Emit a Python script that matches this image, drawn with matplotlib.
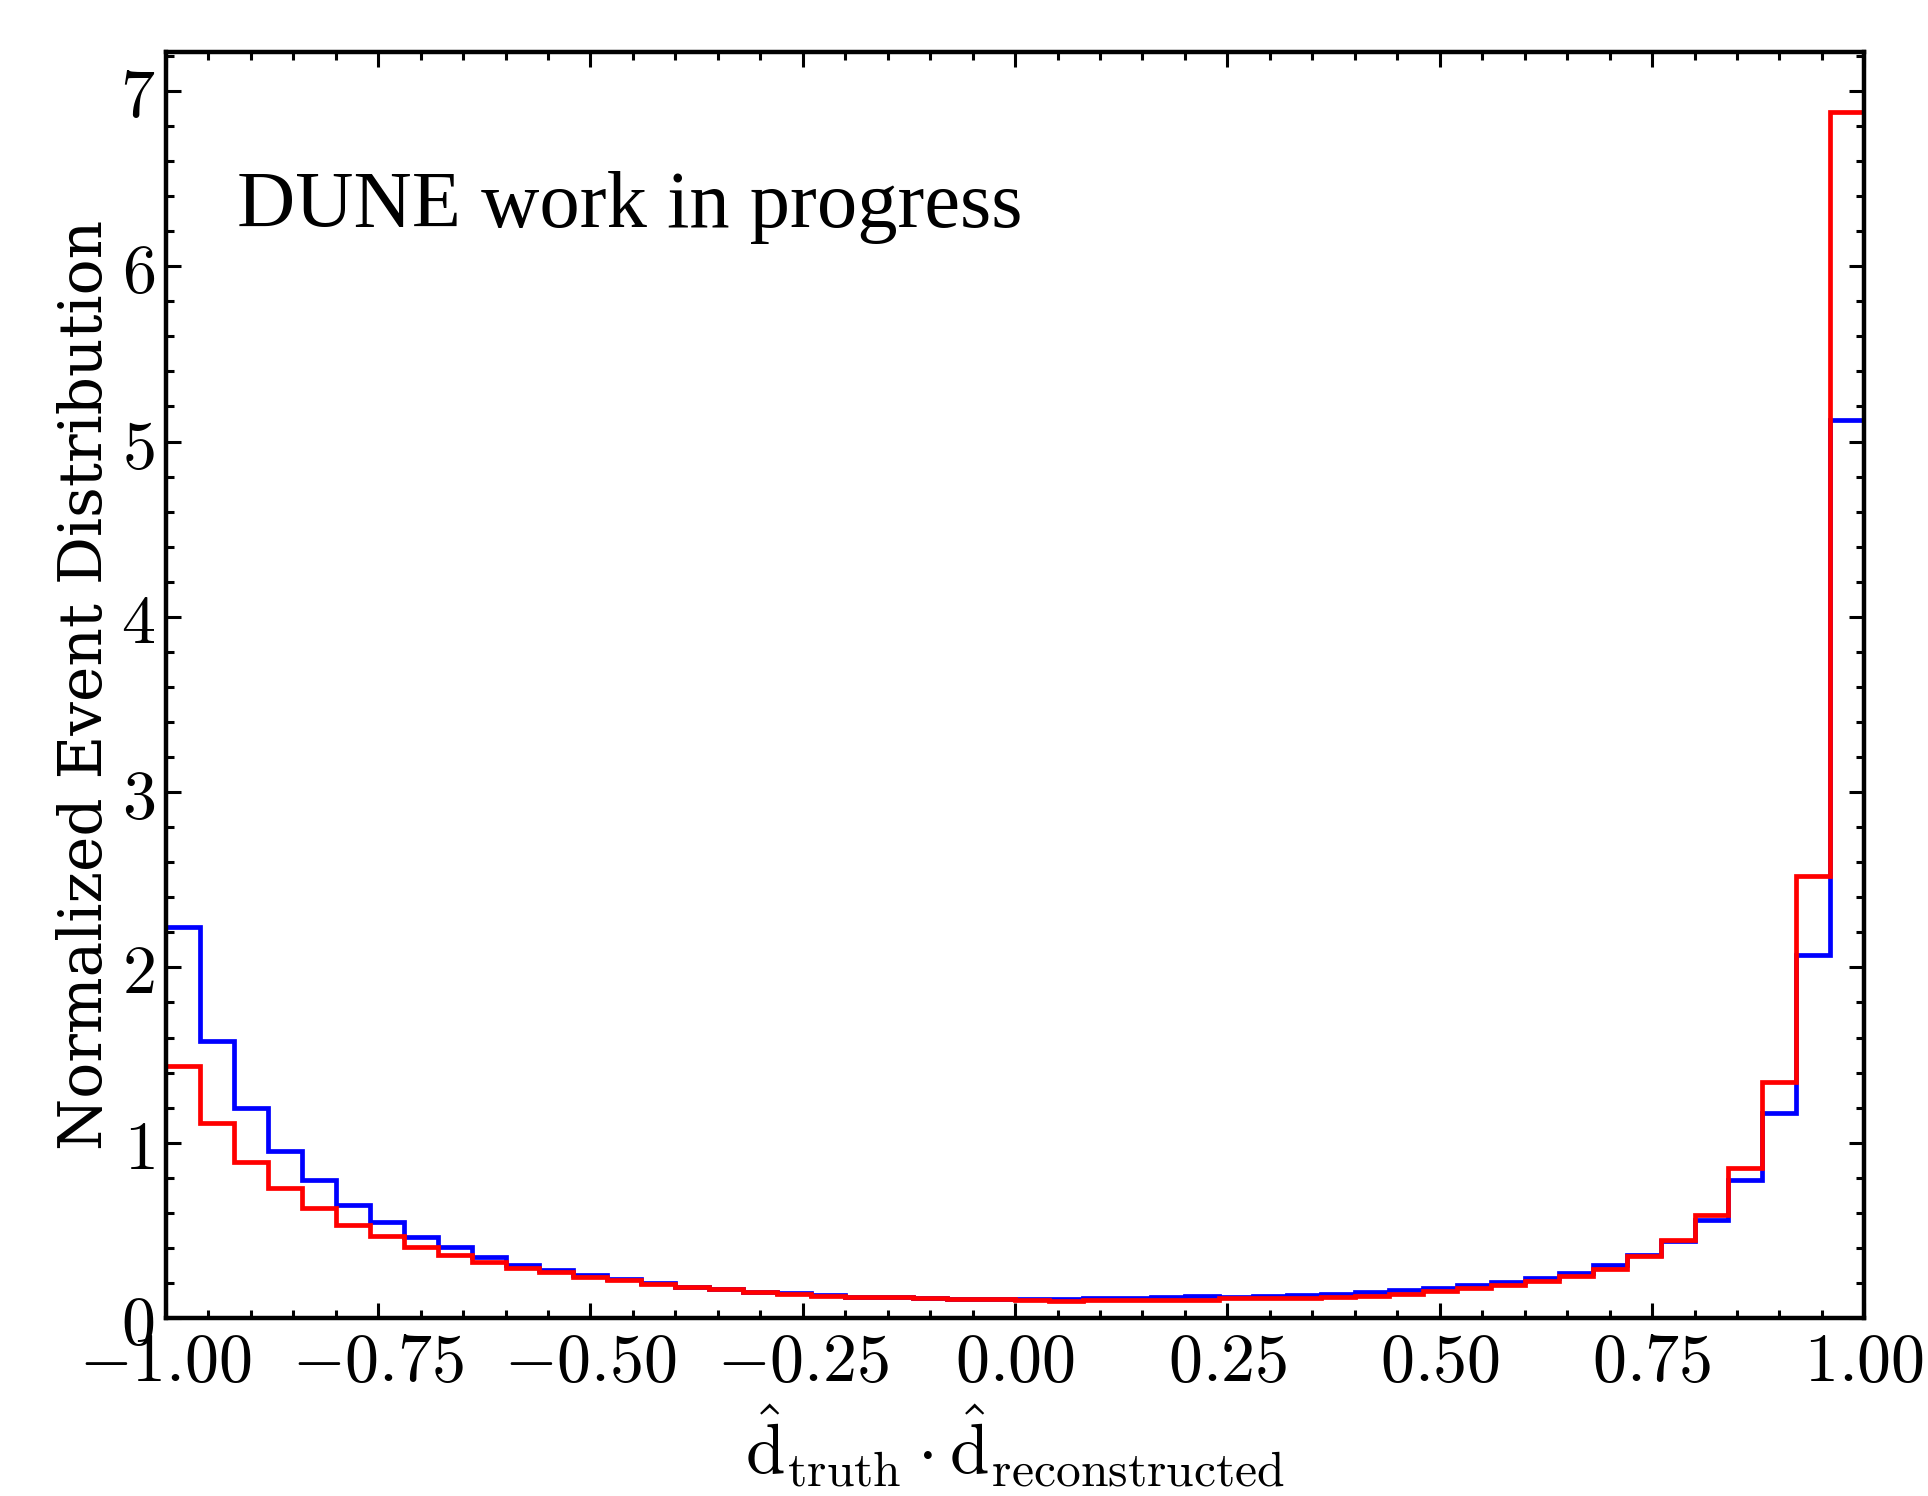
import numpy as np
import matplotlib
matplotlib.use("Agg")
import matplotlib.pyplot as plt
from matplotlib.ticker import MultipleLocator, FuncFormatter

# %% Datos (densidad normalizada, 50 bins entre -1 y 1)
bin_edges = np.linspace(-1.0, 1.0, 51)

blue_vals = [2.23, 1.58, 1.20, 0.95, 0.787, 0.647, 0.546, 0.462, 0.403, 0.347,
             0.300, 0.271, 0.243, 0.223, 0.198, 0.179, 0.166, 0.150, 0.142, 0.131,
             0.121, 0.118, 0.114, 0.110, 0.109, 0.109, 0.109, 0.112, 0.114, 0.120,
             0.124, 0.120, 0.124, 0.131, 0.137, 0.147, 0.158, 0.170, 0.187, 0.204,
             0.229, 0.257, 0.300, 0.362, 0.440, 0.560, 0.785, 1.17, 2.07, 5.12]

red_vals = [1.44, 1.11, 0.892, 0.742, 0.630, 0.530, 0.470, 0.407, 0.362, 0.318,
            0.283, 0.261, 0.233, 0.215, 0.196, 0.177, 0.166, 0.151, 0.139, 0.128,
            0.122, 0.120, 0.114, 0.109, 0.109, 0.105, 0.099, 0.100, 0.100, 0.103,
            0.100, 0.112, 0.112, 0.116, 0.120, 0.128, 0.137, 0.156, 0.170, 0.190,
            0.213, 0.242, 0.282, 0.356, 0.445, 0.590, 0.857, 1.345, 2.52, 6.88]

xticks = [-1.0, -0.75, -0.5, -0.25, 0.0, 0.25, 0.5, 0.75, 1.0]
yticks = [0, 1, 2, 3, 4, 5, 6, 7]

# %% Figura
plt.rcParams['mathtext.fontset'] = 'cm'

fig = plt.figure(figsize=(19.28, 14.96), dpi=100, facecolor='white')
ax = fig.add_axes([0.086, 0.119, 0.881, 0.846])

# baseline=None -> sin bordes verticales en los extremos
ax.stairs(blue_vals, bin_edges, color='#0000ff', linewidth=3.4, baseline=None)
ax.stairs(red_vals, bin_edges, color='#ff0000', linewidth=3.4, baseline=None)

ax.set_xlim(-1, 1)
ax.set_ylim(0, 7.22)
ax.set_xticks(xticks)
ax.set_yticks(yticks)
ax.xaxis.set_minor_locator(MultipleLocator(0.05))
ax.yaxis.set_minor_locator(MultipleLocator(0.2))
ax.xaxis.set_major_formatter(FuncFormatter(lambda v, p: r'$%.2f$' % v))
ax.yaxis.set_major_formatter(FuncFormatter(lambda v, p: r'$%d$' % v))

ax.tick_params(which='both', direction='in', top=True, right=True, width=2.2)
ax.tick_params(which='major', length=11, labelsize=49, pad=8)
ax.tick_params(which='minor', length=6)
for s in ax.spines.values():
    s.set_linewidth(3.2)
    s.set_zorder(5)

ax.set_ylabel("Normalized Event Distribution", family='DejaVu Serif',
              fontsize=43, labelpad=4)
ax.set_xlabel(r'$\hat{\mathrm{d}}_{\mathrm{truth}}\cdot\hat{\mathrm{d}}_{\mathrm{reconstructed}}$',
              fontsize=51, labelpad=6)

ax.text(0.042, 0.862, "DUNE work in progress", transform=ax.transAxes,
        family='Liberation Serif', fontsize=58, va='baseline', ha='left')

fig.savefig("out.png", dpi=100, facecolor='white')
